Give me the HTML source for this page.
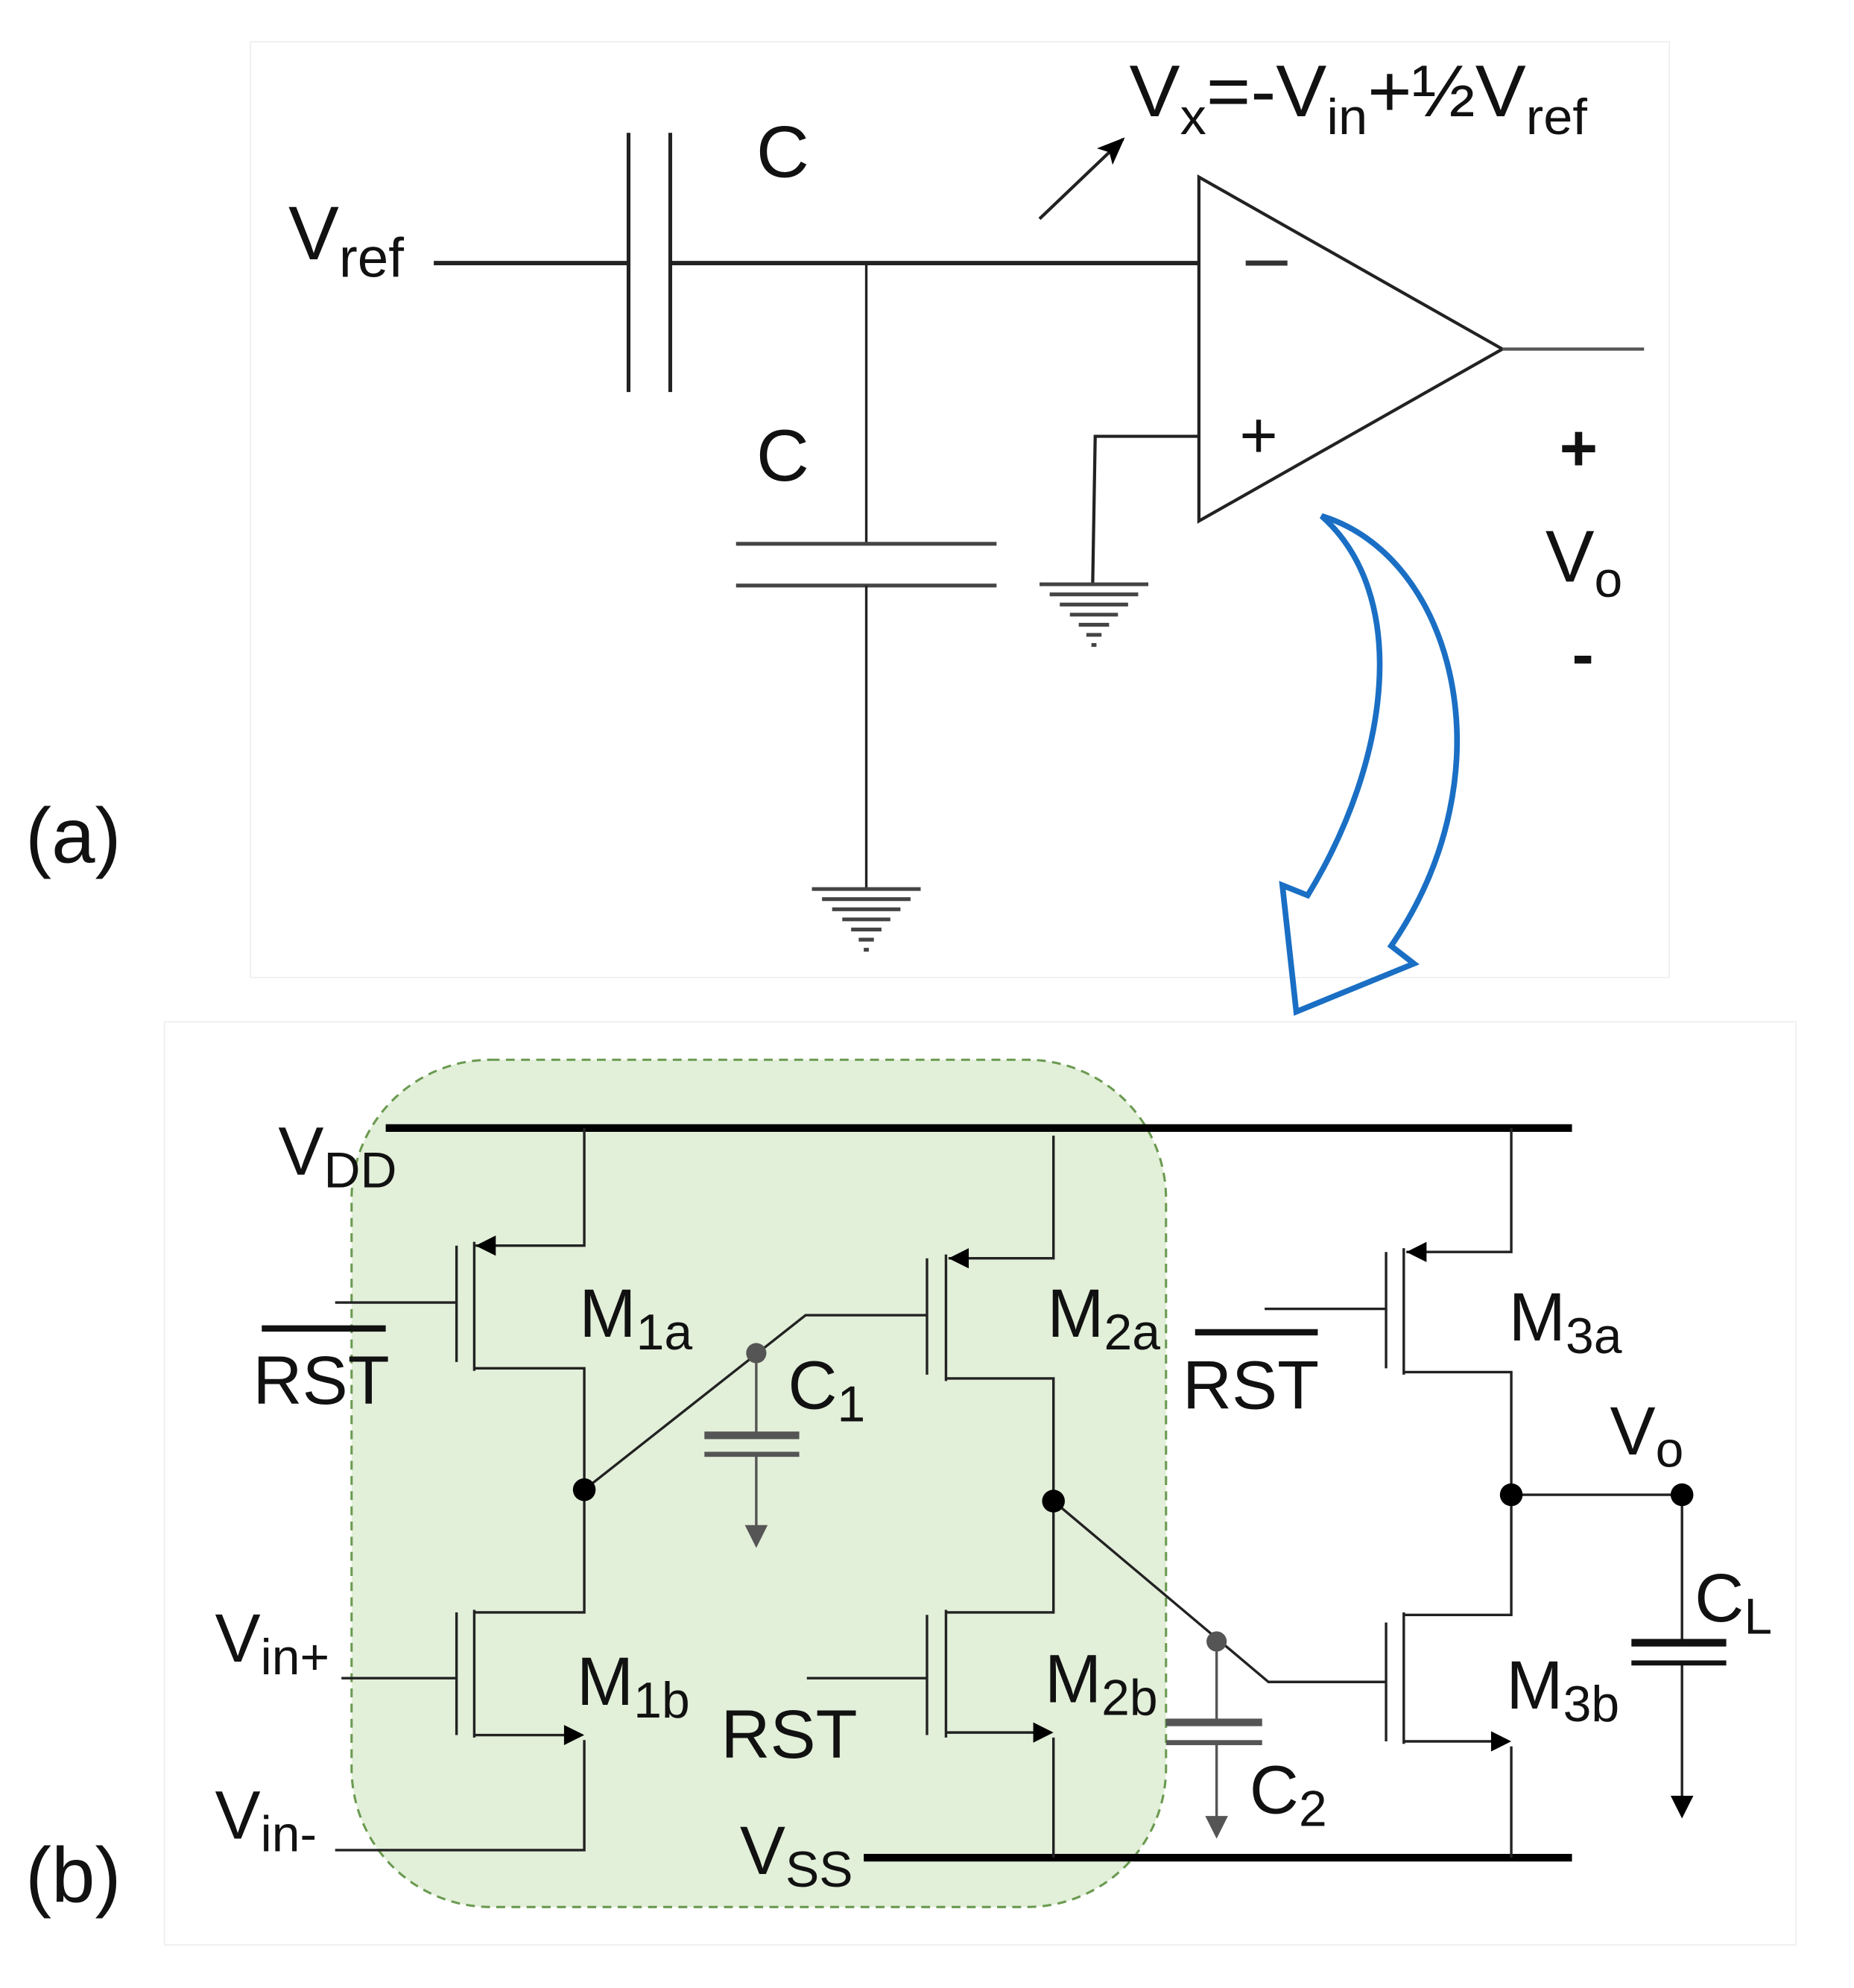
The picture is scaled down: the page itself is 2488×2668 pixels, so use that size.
<!DOCTYPE html>
<html><head><meta charset="utf-8"><style>
html,body{margin:0;padding:0;background:#fff}
svg{display:block}
text{font-family:"Liberation Sans",Arial,sans-serif;fill:#111}
</style></head><body>
<svg width="2488" height="2668" viewBox="0 0 1466 1572" xmlns="http://www.w3.org/2000/svg">
<defs>
<marker id="ah" markerWidth="22" markerHeight="18" refX="20" refY="9" orient="auto" markerUnits="userSpaceOnUse"><path d="M0,0 L22,9 L0,18 L5,9 Z" fill="#000"/></marker>
</defs>
<rect x="198" y="33" width="1122" height="740" fill="none" stroke="#eee" stroke-width="1"/>
<rect x="130" y="808" width="1290" height="730" fill="none" stroke="#eee" stroke-width="1"/>

<g stroke="#222" fill="none">
<line x1="343" y1="208" x2="497" y2="208" stroke-width="3.5"/>
<line x1="497" y1="105" x2="497" y2="310" stroke-width="3"/>
<line x1="530" y1="105" x2="530" y2="310" stroke-width="3"/>
<line x1="530" y1="208" x2="948" y2="208" stroke-width="3.5"/>
<line x1="685" y1="208" x2="685" y2="430" stroke-width="2"/>
<line x1="582" y1="430" x2="788" y2="430" stroke-width="3" stroke="#444"/>
<line x1="582" y1="463" x2="788" y2="463" stroke-width="3" stroke="#444"/>
<line x1="685" y1="463" x2="685" y2="703" stroke-width="2"/>
<polygon points="948,140 948,412 1188,276" stroke-width="2.5"/>
<line x1="1188" y1="276" x2="1300" y2="276" stroke-width="2.5" stroke="#555"/>
<polyline points="948,345 866,345 864,462" stroke-width="2.5"/>
<line x1="822" y1="173" x2="888" y2="110" stroke-width="2.5" marker-end="url(#ah)"/>
</g>
<g stroke="#444" stroke-width="3">
<line x1="642" y1="703" x2="728" y2="703"/><line x1="650" y1="711" x2="720" y2="711"/><line x1="658" y1="719" x2="712" y2="719"/><line x1="666" y1="727" x2="704" y2="727"/><line x1="673" y1="735" x2="697" y2="735"/><line x1="679" y1="743" x2="691" y2="743"/><line x1="683" y1="751" x2="687" y2="751"/>
<line x1="822" y1="462" x2="908" y2="462"/><line x1="830" y1="470" x2="900" y2="470"/><line x1="838" y1="478" x2="892" y2="478"/><line x1="846" y1="486" x2="884" y2="486"/><line x1="853" y1="494" x2="877" y2="494"/><line x1="859" y1="502" x2="871" y2="502"/><line x1="863" y1="510" x2="867" y2="510"/>
</g>
<line x1="985" y1="208" x2="1018" y2="208" stroke="#333" stroke-width="4"/>
<text x="980" y="362" font-size="52" fill="#333">+</text>
<text x="228" y="205" font-size="60">V<tspan font-size="44" dy="14">ref</tspan></text>
<text x="598" y="140" font-size="58" fill="#222">C</text>
<text x="598" y="380" font-size="58" fill="#222">C</text>
<text x="893" y="92" font-size="58" textLength="362" lengthAdjust="spacingAndGlyphs">V<tspan font-size="40" dy="14">x</tspan><tspan dy="-14">=-V</tspan><tspan font-size="40" dy="14">in</tspan><tspan dy="-14">+½V</tspan><tspan font-size="40" dy="14">ref</tspan></text>
<text x="1233" y="372" font-size="52" font-weight="bold">+</text>
<text x="1222" y="460" font-size="58">V<tspan font-size="40" dy="12">o</tspan></text>
<text x="1243" y="535" font-size="52" font-weight="bold">-</text>
<text x="20" y="682" font-size="62">(a)</text>
<path d="M1045,408 C1150,440 1195,610 1100,748 L1118,762 L1025,800 L1014,700 L1034,708 C1100,600 1115,470 1045,408 Z" fill="none" stroke="#1a6fc4" stroke-width="4.5" stroke-linejoin="miter"/>

<rect x="278" y="838" width="644" height="670" rx="110" ry="110" fill="#e2efd9" stroke="#6a9a50" stroke-width="1.8" stroke-dasharray="7,5"/>
<line x1="305" y1="892" x2="1243" y2="892" stroke="#000" stroke-width="6"/>
<line x1="683" y1="1469" x2="1243" y2="1469" stroke="#000" stroke-width="6"/>
<g stroke="#222" stroke-width="2" fill="none">
<polyline points="462,892 462,985 376,985"/>
<line x1="375" y1="982" x2="375" y2="1084"/>
<line x1="361" y1="985" x2="361" y2="1077"/>
<line x1="265" y1="1030" x2="361" y2="1030"/>
<polyline points="375,1082 462,1082 462,1275 375,1275"/>
<line x1="375" y1="1273" x2="375" y2="1374"/>
<line x1="361" y1="1275" x2="361" y2="1372"/>
<line x1="270" y1="1327" x2="361" y2="1327"/>
<polyline points="375,1372 458,1372"/>
<polyline points="462,1376 462,1463 265,1463"/>
<polyline points="833,898 833,995 750,995"/>
<line x1="748" y1="992" x2="748" y2="1092"/>
<line x1="733" y1="995" x2="733" y2="1087"/>
<polyline points="733,1040 637,1040 462,1178"/>
<polyline points="748,1090 833,1090 833,1275 748,1275"/>
<line x1="748" y1="1273" x2="748" y2="1374"/>
<line x1="733" y1="1277" x2="733" y2="1372"/>
<line x1="638" y1="1327" x2="733" y2="1327"/>
<line x1="748" y1="1370" x2="829" y2="1370"/>
<line x1="833" y1="1374" x2="833" y2="1469"/>
<polyline points="833,1187 1003,1330 1096,1330"/>
<polyline points="1195,892 1195,990 1112,990"/>
<line x1="1110" y1="987" x2="1110" y2="1087"/>
<line x1="1096" y1="990" x2="1096" y2="1082"/>
<line x1="1000" y1="1035" x2="1096" y2="1035"/>
<polyline points="1110,1085 1195,1085 1195,1277 1110,1277"/>
<polyline points="1195,1182 1330,1182 1330,1300"/>
<line x1="1110" y1="1275" x2="1110" y2="1379"/>
<line x1="1096" y1="1283" x2="1096" y2="1377"/>
<line x1="1110" y1="1377" x2="1191" y2="1377"/>
<line x1="1195" y1="1381" x2="1195" y2="1469"/>
<line x1="1330" y1="1316" x2="1330" y2="1422"/>
</g>
<g fill="#000">
<polygon points="376,985 392,977 392,993"/>
<polygon points="750,995 766,987 766,1003"/>
<polygon points="1112,990 1128,982 1128,998"/>
<polygon points="462,1372 446,1364 446,1380"/>
<polygon points="833,1370 817,1362 817,1378"/>
<polygon points="1195,1377 1179,1369 1179,1385"/>
<polygon points="1330,1438 1321,1420 1339,1420"/>
<circle cx="462" cy="1178" r="9"/><circle cx="833" cy="1187" r="9"/>
<circle cx="1195" cy="1182" r="9"/><circle cx="1330" cy="1182" r="9"/>
</g>
<rect x="1290" y="1296" width="75" height="6" fill="#111"/>
<rect x="1290" y="1313" width="75" height="4" fill="#111"/>
<g stroke="#555" fill="#555">
<circle cx="598" cy="1070" r="8" stroke="none"/>
<line x1="598" y1="1070" x2="598" y2="1135" stroke-width="2"/>
<rect x="557" y="1132" width="75" height="6" stroke="none"/>
<rect x="557" y="1148" width="75" height="4" stroke="none"/>
<line x1="598" y1="1150" x2="598" y2="1208" stroke-width="2"/>
<polygon points="598,1224 589,1206 607,1206" stroke="none"/>
<circle cx="962" cy="1298" r="8" stroke="none"/>
<line x1="962" y1="1298" x2="962" y2="1362" stroke-width="2"/>
<rect x="922" y="1359" width="76" height="6" stroke="none"/>
<rect x="922" y="1376" width="76" height="4" stroke="none"/>
<line x1="962" y1="1378" x2="962" y2="1438" stroke-width="2"/>
<polygon points="962,1454 953,1436 971,1436" stroke="none"/>
</g>
<g font-size="54">
<text x="220" y="929">V<tspan font-size="40" dy="10">DD</tspan></text>
<text x="585" y="1482">V<tspan font-size="40" dy="10">SS</tspan></text>
<text x="458" y="1057">M<tspan font-size="40" dy="10">1a</tspan></text>
<text x="456" y="1348">M<tspan font-size="40" dy="10">1b</tspan></text>
<text x="828" y="1057">M<tspan font-size="40" dy="10">2a</tspan></text>
<text x="826" y="1346">M<tspan font-size="40" dy="10">2b</tspan></text>
<text x="1193" y="1060">M<tspan font-size="40" dy="10">3a</tspan></text>
<text x="1191" y="1351">M<tspan font-size="40" dy="10">3b</tspan></text>
<text x="623" y="1114">C<tspan font-size="40" dy="10">1</tspan></text>
<text x="988" y="1434">C<tspan font-size="40" dy="10">2</tspan></text>
<text x="1340" y="1282">C<tspan font-size="40" dy="10">L</tspan></text>
<text x="1273" y="1150">V<tspan font-size="40" dy="10">o</tspan></text>
<text x="200" y="1110">RST</text>
<text x="935" y="1114">RST</text>
<text x="570" y="1390">RST</text>
<text x="170" y="1314">V<tspan font-size="40" dy="10">in+</tspan></text>
<text x="170" y="1454">V<tspan font-size="40" dy="10">in-</tspan></text>
</g>
<rect x="207" y="1048" width="98" height="5" fill="#111"/>
<rect x="945" y="1051" width="97" height="5" fill="#111"/>
<text x="20" y="1504" font-size="62">(b)</text>
</svg>
</body></html>
